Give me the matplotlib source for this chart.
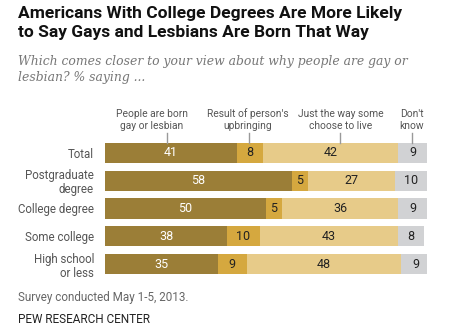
import matplotlib
matplotlib.use("Agg")
import matplotlib.pyplot as plt
import numpy as np

# Survey rows, top to bottom
groups = ["Total", "Postgraduate\ndegree", "College degree", "Some college", "High school\nor less"]
born = [41, 58, 50, 38, 35]
upbringing = [8, 5, 5, 10, 9]
choose = [42, 27, 36, 43, 48]
dont_know = [9, 10, 9, 8, 9]

series = [born, upbringing, choose, dont_know]
series_names = ["People are born\ngay or lesbian", "Result of person's\nupbringing",
                "Just the way some\nchoose to live", "Don't\nknow"]
colors = ["#9b7e37", "#d5a83f", "#e7cb89", "#d1d2d4"]
text_colors = ["white", "#222222", "#222222", "#222222"]

W, H = 449, 328
fig = plt.figure(figsize=(W / 100, H / 100), dpi=100)

def px(x, y):
    return x / W, 1 - y / H

ax = fig.add_axes([105 / W, 1 - 278 / H, 322 / W, 139 / H])
ypos = np.arange(len(groups))
left = np.zeros(len(groups))
for vals, col, tcol in zip(series, colors, text_colors):
    vals = np.array(vals)
    ax.barh(ypos, vals, left=left, height=0.72, color=col, linewidth=0)
    for y, l, v in zip(ypos, left, vals):
        ax.text(l + v / 2, y, str(v), ha="center", va="center",
                fontsize=9, color=tcol, family="Roboto")
    left += vals

ax.set_xlim(0, 100)
ax.set_ylim(4.5, -0.5)
ax.set_yticks(ypos)
ax.set_yticklabels(groups, fontsize=8.3, color="#555555", family="Roboto",
                   linespacing=1.1)
ax.tick_params(axis="y", length=0, pad=8)
ax.set_xticks([])
for s in ax.spines.values():
    s.set_visible(False)

# Column headers with short leader lines down to the top bar
label_x = [14.6, 44.3, 73.3, 95.3]
tick_x = [19.3, 44.6, 73.0, 95.3]
for name, lx, tx in zip(series_names, label_x, tick_x):
    ax.text(lx, -0.8, name, ha="center", va="bottom", fontsize=7.4,
            color="#555555", family="Roboto", linespacing=1.2)
    ax.plot([tx, tx], [-0.36, -0.72], color="#999999", lw=1, clip_on=False)

fig.text(*px(18, 6), "Americans With College Degrees Are More Likely\nto Say Gays and Lesbians Are Born That Way",
         fontsize=12.5, fontweight="bold", family="Roboto", color="#111111",
         va="top", linespacing=1.3)
fig.text(*px(18, 55), "Which comes closer to your view about why people are gay or\nlesbian? % saying ...",
         fontsize=8.9, style="italic", family="DejaVu Serif", color="#777777",
         va="top", linespacing=1.35)
fig.text(*px(18, 301), "Survey conducted May 1-5, 2013.", fontsize=8.4,
         family="Roboto", color="#666666", va="baseline")
fig.text(*px(18, 323), "PEW RESEARCH CENTER", fontsize=8.5,
         family="Roboto", color="#222222", va="baseline")

fig.savefig("out.png", dpi=100, facecolor="white")
